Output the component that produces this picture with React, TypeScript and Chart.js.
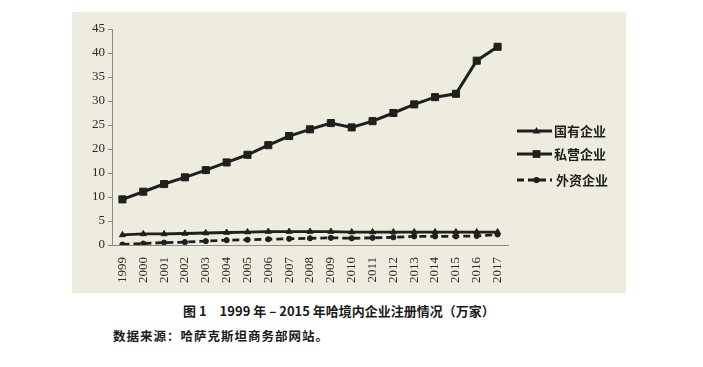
import { useEffect, useRef } from "react";
import { Chart, registerables } from "chart.js";

Chart.register(...registerables);

const years = [
  "1999", "2000", "2001", "2002", "2003", "2004", "2005", "2006", "2007", "2008",
  "2009", "2010", "2011", "2012", "2013", "2014", "2015", "2016", "2017",
];
const stateOwned = [2.1, 2.3, 2.3, 2.4, 2.5, 2.6, 2.7, 2.8, 2.8, 2.8, 2.8, 2.7, 2.7, 2.7, 2.7, 2.7, 2.7, 2.7, 2.7];
const privateEnt = [9.5, 11.1, 12.7, 14.1, 15.6, 17.2, 18.8, 20.8, 22.7, 24.1, 25.4, 24.5, 25.8, 27.5, 29.3, 30.8, 31.5, 38.4, 41.3];
const foreignEnt = [0.1, 0.3, 0.5, 0.6, 0.8, 1.0, 1.1, 1.2, 1.3, 1.4, 1.5, 1.4, 1.5, 1.6, 1.8, 1.8, 1.8, 1.9, 2.2];
const yTickLabels = ["0", "5", "10", "10", "20", "25", "30", "35", "40", "45"];
const seriesNames = ["国有企业", "私营企业", "外资企业"];
const titleText = "图 1　1999 年 – 2015 年哈境内企业注册情况（万家）";
const sourceText = "数据来源：哈萨克斯坦商务部网站。";

const INK = "#1f1f1c";
const SERIF = "'Liberation Serif', 'Times New Roman', serif";
const CJK = "'Noto Sans CJK SC', sans-serif";

function drawMarker(ctx: CanvasRenderingContext2D, style: string, x: number, y: number, r: number) {
  ctx.beginPath();
  if (style === "triangle") {
    ctx.moveTo(x, y - r);
    ctx.lineTo(x + r * 0.95, y + r * 0.6);
    ctx.lineTo(x - r * 0.95, y + r * 0.6);
    ctx.closePath();
  } else if (style === "rect") {
    const s = r * Math.SQRT1_2;
    ctx.rect(x - s, y - s, 2 * s, 2 * s);
  } else {
    ctx.arc(x, y, r, 0, Math.PI * 2);
  }
  ctx.fill();
}

const legendPlugin = {
  id: "customLegend",
  afterDraw(chart: any) {
    const ctx = chart.ctx as CanvasRenderingContext2D;
    const area = chart.chartArea;
    const rowsY = [119, 142, 168];
    const x0 = area.right + 9;
    const x1 = area.right + 44;
    chart.data.datasets.forEach((ds: any, i: number) => {
      const y = rowsY[i];
      ctx.save();
      ctx.strokeStyle = ds.borderColor;
      ctx.fillStyle = ds.borderColor;
      ctx.lineWidth = 3;
      ctx.setLineDash(ds.borderDash || []);
      ctx.beginPath();
      ctx.moveTo(x0, y);
      ctx.lineTo(x1, y);
      ctx.stroke();
      ctx.setLineDash([]);
      drawMarker(ctx, ds.pointStyle, (x0 + x1) / 2 + 2, y, ds.pointRadius + 0.5);
      ctx.font = `bold 13px ${CJK}`;
      ctx.textBaseline = "middle";
      ctx.textAlign = "left";
      ctx.fillText(ds.label, x1 + 2 + (ds.borderDash ? 2 : 0), y);
      ctx.restore();
    });
  },
};

export default function App() {
  const canvasRef = useRef<HTMLCanvasElement | null>(null);

  useEffect(() => {
    if (!canvasRef.current) return;
    const chart = new Chart(canvasRef.current, {
      type: "line",
      data: {
        labels: years,
        datasets: [
          {
            label: seriesNames[0],
            data: stateOwned,
            borderColor: INK,
            backgroundColor: INK,
            borderWidth: 2.8,
            pointStyle: "triangle",
            pointRadius: 3.5,
            pointBorderWidth: 1,
            tension: 0,
          },
          {
            label: seriesNames[1],
            data: privateEnt,
            borderColor: INK,
            backgroundColor: INK,
            borderWidth: 3,
            pointStyle: "rect",
            pointRadius: 5,
            pointBorderWidth: 1,
            tension: 0,
          },
          {
            label: seriesNames[2],
            data: foreignEnt,
            borderColor: INK,
            backgroundColor: INK,
            borderWidth: 2.8,
            borderDash: [7, 4],
            pointStyle: "circle",
            pointRadius: 2.6,
            pointBorderWidth: 1,
            tension: 0,
          },
        ],
      },
      options: {
        responsive: false,
        animation: false,
        devicePixelRatio: 1,
        layout: { padding: { left: 0, top: 17, right: 118, bottom: 0 } },
        plugins: {
          legend: { display: false },
          tooltip: { enabled: false },
          title: { display: false },
        },
        scales: {
          x: {
            type: "category",
            offset: true,
            grid: { display: false, drawTicks: false },
            border: { display: true, color: "#8a8a84", width: 1 },
            ticks: {
              color: "#2a2a26",
              font: { family: SERIF, size: 13 },
              minRotation: 90,
              maxRotation: 90,
              autoSkip: false,
              padding: 12,
            },
            afterFit: (s: any) => {
              s.height = 48;
            },
          },
          y: {
            min: 0,
            max: 45,
            grid: { drawOnChartArea: false, drawTicks: true, tickLength: 4, color: "#8a8a84" },
            border: { display: true, color: "#8a8a84", width: 1 },
            ticks: {
              stepSize: 5,
              color: "#2a2a26",
              font: { family: SERIF, size: 13 },
              padding: 3,
              callback: (_v: any, i: number) => yTickLabels[i],
            },
            afterFit: (s: any) => {
              s.width = 40;
            },
          },
        },
      },
      plugins: [legendPlugin],
    });
    return () => chart.destroy();
  }, []);

  return (
    <div style={{ position: "absolute", left: 0, top: 0, width: 703, height: 367, background: "#fff", overflow: "hidden" }}>
      <canvas
        ref={canvasRef}
        width={554}
        height={281}
        style={{ position: "absolute", left: 72, top: 12, width: 554, height: 281, background: "#edecdf" }}
      />
      <div
        style={{
          position: "absolute",
          left: 183,
          top: 302,
          fontFamily: CJK,
          fontWeight: 700,
          fontSize: 13,
          lineHeight: "18px",
          color: "#1a1a1a",
          whiteSpace: "nowrap",
        }}
      >
        {titleText}
      </div>
      <div
        style={{
          position: "absolute",
          left: 113,
          top: 327,
          fontFamily: CJK,
          fontWeight: 700,
          fontSize: 12.5,
          letterSpacing: "1px",
          lineHeight: "18px",
          color: "#1a1a1a",
          whiteSpace: "nowrap",
        }}
      >
        {sourceText}
      </div>
    </div>
  );
}
